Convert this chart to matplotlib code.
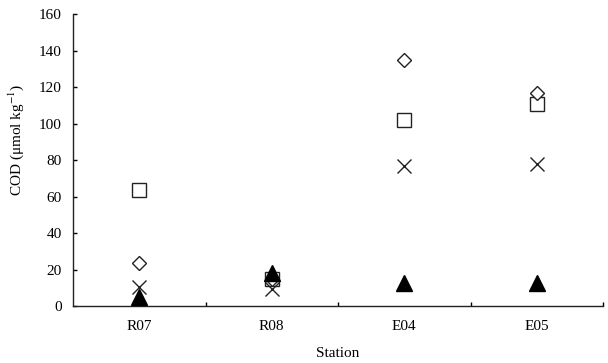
import matplotlib
matplotlib.use("Agg")
import matplotlib.pyplot as plt

stations = ["R07", "R08", "E04", "E05"]
diamond_vals = [23.5, 15.0, 134.8, 117.0]
square_vals = [63.5, 14.8, 102.0, 111.0]
cross_vals = [10.4, 9.3, 77.0, 77.8]
triangle_vals = [5.0, 18.0, 12.6, 12.6]
y_ticks = [0, 20, 40, 60, 80, 100, 120, 140, 160]

plt.rcParams['font.family'] = ['Liberation Serif', 'DejaVu Serif']
plt.rcParams['mathtext.fontset'] = 'stix'

fig = plt.figure(figsize=(6.08, 3.63), dpi=100)
ax = fig.add_axes([0.120, 0.157, 0.872, 0.804])
x = list(range(len(stations)))

ax.plot(x, square_vals, linestyle='none', marker='s', markersize=10.5,
        markerfacecolor='white', markeredgecolor='#222222', markeredgewidth=1.0, zorder=3)
ax.plot(x, diamond_vals, linestyle='none', marker='D', markersize=7.5,
        markerfacecolor='white', markeredgecolor='#222222', markeredgewidth=1.0, zorder=3)
ax.plot(x, cross_vals, linestyle='none', marker='x', markersize=10,
        color='#222222', markeredgewidth=1.0, zorder=4)
ax.plot(x, triangle_vals, linestyle='none', marker='^', markersize=11,
        color='black', zorder=5)

ax.set_xlim(-0.5, 3.5)
ax.set_ylim(0, 160)
ax.set_yticks(y_ticks)
ax.set_xticks(x)
ax.set_xticklabels(stations)
ax.set_xticks([0.5, 1.5, 2.5, 3.5], minor=True)
ax.tick_params(axis='x', which='major', length=0, pad=10, labelsize=11)
ax.tick_params(axis='x', which='minor', direction='in', length=3, width=1)
ax.tick_params(axis='y', direction='in', length=3, width=1, labelsize=11, pad=8)
for s in ['top', 'right']:
    ax.spines[s].set_visible(False)
for s in ['left', 'bottom']:
    ax.spines[s].set_linewidth(1.0)
    ax.spines[s].set_color('#222222')

ax.set_ylabel('COD (μmol kg$^{-1}$)', fontsize=11)
ax.yaxis.set_label_coords(-0.088, 0.57)
ax.set_xlabel('Station', fontsize=11)
ax.xaxis.set_label_coords(0.5, -0.14)

fig.savefig('out.png', dpi=100)
